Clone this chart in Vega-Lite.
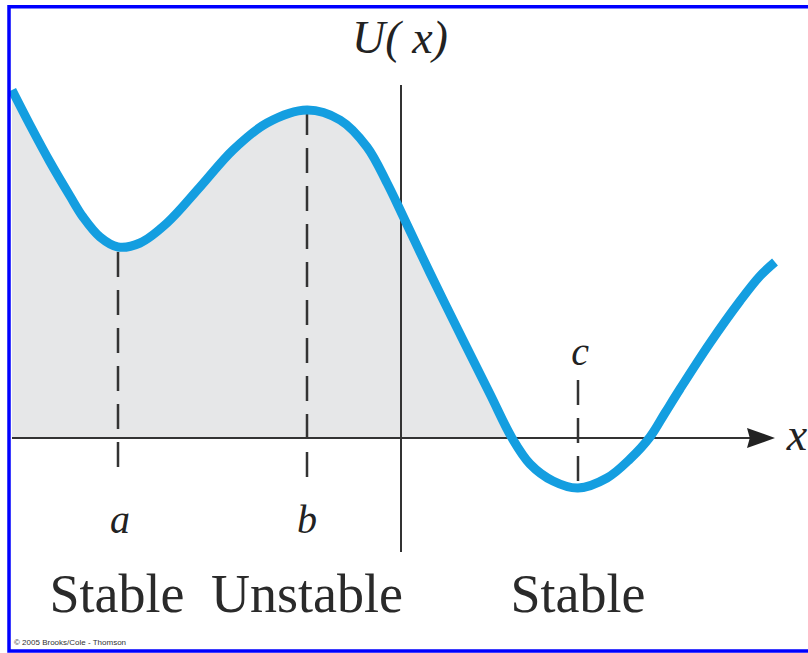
{
  "$schema": "https://vega.github.io/schema/vega-lite/v6.json",
  "width": 808,
  "height": 653,
  "autosize": {"type": "none"},
  "padding": 0,
  "background": "white",
  "config": {"view": {"stroke": null}},
  "datasets": {
    "curve": [
      {"x": -3.88, "U": 3.48}, {"x": -3.70, "U": 3.13}, {"x": -3.50, "U": 2.76}, {"x": -3.30, "U": 2.42},
      {"x": -3.17, "U": 2.21}, {"x": -3.00, "U": 2.01}, {"x": -2.82, "U": 1.91}, {"x": -2.60, "U": 1.95},
      {"x": -2.33, "U": 2.15}, {"x": -2.00, "U": 2.51}, {"x": -1.67, "U": 2.88}, {"x": -1.33, "U": 3.15},
      {"x": -0.93, "U": 3.28}, {"x": -0.60, "U": 3.18}, {"x": -0.33, "U": 2.91}, {"x": -0.13, "U": 2.55},
      {"x": 0.02, "U": 2.24}, {"x": 0.30, "U": 1.65}, {"x": 0.63, "U": 0.98}, {"x": 0.90, "U": 0.44},
      {"x": 1.12, "U": 0.00}, {"x": 1.30, "U": -0.26}, {"x": 1.53, "U": -0.43}, {"x": 1.78, "U": -0.50},
      {"x": 2.07, "U": -0.40}, {"x": 2.30, "U": -0.21},
      {"x": 2.50, "U": 0.01}, {"x": 2.65, "U": 0.25}, {"x": 2.80, "U": 0.49}, {"x": 3.10, "U": 0.95}, {"x": 3.40, "U": 1.37},
      {"x": 3.60, "U": 1.62}, {"x": 3.75, "U": 1.76}
    ],
    "dashes": [
      {"point": "a", "x": -2.82, "U": 1.86, "U2": -0.40},
      {"point": "b", "x": -0.93, "U": 3.28, "U2": -0.40},
      {"point": "c", "x": 1.78, "U": 0.58, "U2": -0.52}
    ],
    "vaxis": [{"x": 0.01, "U": 3.53, "U2": -1.14}],
    "haxis": [{"x": -3.88, "x2": 3.52, "U": 0}],
    "arrow": [{"x": 3.61, "U": 0}],
    "axisLabels": [
      {"label": "U( x)", "x": 0.0, "U": 3.85, "align": "center"},
      {"label": "x", "x": 3.97, "U": -0.12, "align": "left"}
    ],
    "pointLabels": [
      {"label": "a", "x": -2.80, "U": -0.95},
      {"label": "b", "x": -0.93, "U": -0.95},
      {"label": "c", "x": 1.80, "U": 0.73}
    ],
    "stability": [
      {"label": "Stable", "x": -2.83, "U": -1.74},
      {"label": "Unstable", "x": -0.93, "U": -1.74},
      {"label": "Stable", "x": 1.78, "U": -1.74}
    ],
    "credit": [{"label": "© 2005 Brooks/Cole - Thomson", "x": -3.86, "U": -2.07}],
    "frame": [{"x": -3.91, "x2": 4.20, "U": 4.313, "U2": -2.13}]
  },
  "layer": [
    {
      "data": {"name": "curve"},
      "transform": [{"filter": "datum.x <= 1.12"}],
      "mark": {"type": "area", "color": "#e6e7e8", "interpolate": "catmull-rom"},
      "encoding": {
        "x": {"field": "x", "type": "quantitative", "scale": {"domain": [-4, 4.08], "nice": false, "zero": false}, "axis": null},
        "y": {"field": "U", "type": "quantitative", "scale": {"domain": [-2.15, 4.38], "nice": false, "zero": false}, "axis": null},
        "y2": {"datum": 0}
      }
    },
    {
      "data": {"name": "haxis"},
      "mark": {"type": "rule", "color": "#333333", "strokeWidth": 2},
      "encoding": {
        "x": {"field": "x", "type": "quantitative", "scale": {"domain": [-4, 4.08], "nice": false, "zero": false}, "axis": null},
        "x2": {"field": "x2"},
        "y": {"field": "U", "type": "quantitative", "scale": {"domain": [-2.15, 4.38], "nice": false, "zero": false}, "axis": null}
      }
    },
    {
      "data": {"name": "vaxis"},
      "mark": {"type": "rule", "color": "#333333", "strokeWidth": 2},
      "encoding": {
        "x": {"field": "x", "type": "quantitative", "scale": {"domain": [-4, 4.08], "nice": false, "zero": false}, "axis": null},
        "y": {"field": "U", "type": "quantitative", "scale": {"domain": [-2.15, 4.38], "nice": false, "zero": false}, "axis": null},
        "y2": {"field": "U2"}
      }
    },
    {
      "data": {"name": "arrow"},
      "mark": {"type": "point", "shape": "M-1,-0.72L1,0L-1,0.72L-0.8,0Z", "size": 784, "filled": true, "color": "#222222", "opacity": 1},
      "encoding": {
        "x": {"field": "x", "type": "quantitative", "scale": {"domain": [-4, 4.08], "nice": false, "zero": false}, "axis": null},
        "y": {"field": "U", "type": "quantitative", "scale": {"domain": [-2.15, 4.38], "nice": false, "zero": false}, "axis": null}
      }
    },
    {
      "data": {"name": "dashes"},
      "mark": {"type": "rule", "color": "#333333", "strokeWidth": 2.5, "strokeDash": [25, 13]},
      "encoding": {
        "x": {"field": "x", "type": "quantitative", "scale": {"domain": [-4, 4.08], "nice": false, "zero": false}, "axis": null},
        "y": {"field": "U", "type": "quantitative", "scale": {"domain": [-2.15, 4.38], "nice": false, "zero": false}, "axis": null},
        "y2": {"field": "U2"}
      }
    },
    {
      "data": {"name": "curve"},
      "mark": {"type": "line", "color": "#149ee0", "strokeWidth": 9, "interpolate": "catmull-rom", "strokeCap": "butt"},
      "encoding": {
        "x": {"field": "x", "type": "quantitative", "scale": {"domain": [-4, 4.08], "nice": false, "zero": false}, "axis": null},
        "y": {"field": "U", "type": "quantitative", "scale": {"domain": [-2.15, 4.38], "nice": false, "zero": false}, "axis": null}
      }
    },
    {
      "data": {"name": "axisLabels"},
      "mark": {"type": "text", "font": "Liberation Serif", "fontStyle": "italic", "fontSize": 46, "color": "#222222", "baseline": "alphabetic"},
      "encoding": {
        "x": {"field": "x", "type": "quantitative", "scale": {"domain": [-4, 4.08], "nice": false, "zero": false}, "axis": null},
        "y": {"field": "U", "type": "quantitative", "scale": {"domain": [-2.15, 4.38], "nice": false, "zero": false}, "axis": null},
        "text": {"field": "label"},
        "align": {"field": "align"}
      }
    },
    {
      "data": {"name": "pointLabels"},
      "mark": {"type": "text", "font": "Liberation Serif", "fontStyle": "italic", "fontSize": 40, "color": "#222222", "baseline": "alphabetic", "align": "center"},
      "encoding": {
        "x": {"field": "x", "type": "quantitative", "scale": {"domain": [-4, 4.08], "nice": false, "zero": false}, "axis": null},
        "y": {"field": "U", "type": "quantitative", "scale": {"domain": [-2.15, 4.38], "nice": false, "zero": false}, "axis": null},
        "text": {"field": "label"}
      }
    },
    {
      "data": {"name": "stability"},
      "mark": {"type": "text", "font": "Liberation Serif", "fontSize": 54, "color": "#2a2a2a", "baseline": "alphabetic", "align": "center"},
      "encoding": {
        "x": {"field": "x", "type": "quantitative", "scale": {"domain": [-4, 4.08], "nice": false, "zero": false}, "axis": null},
        "y": {"field": "U", "type": "quantitative", "scale": {"domain": [-2.15, 4.38], "nice": false, "zero": false}, "axis": null},
        "text": {"field": "label"}
      }
    },
    {
      "data": {"name": "credit"},
      "mark": {"type": "text", "font": "Liberation Sans", "fontSize": 8, "color": "#333333", "baseline": "alphabetic", "align": "left"},
      "encoding": {
        "x": {"field": "x", "type": "quantitative", "scale": {"domain": [-4, 4.08], "nice": false, "zero": false}, "axis": null},
        "y": {"field": "U", "type": "quantitative", "scale": {"domain": [-2.15, 4.38], "nice": false, "zero": false}, "axis": null},
        "text": {"field": "label"}
      }
    },
    {
      "data": {"name": "frame"},
      "mark": {"type": "rect", "fill": "transparent", "stroke": "#0000ff", "strokeWidth": 3.5},
      "encoding": {
        "x": {"field": "x", "type": "quantitative", "scale": {"domain": [-4, 4.08], "nice": false, "zero": false}, "axis": null},
        "x2": {"field": "x2"},
        "y": {"field": "U", "type": "quantitative", "scale": {"domain": [-2.15, 4.38], "nice": false, "zero": false}, "axis": null},
        "y2": {"field": "U2"}
      }
    }
  ]
}
